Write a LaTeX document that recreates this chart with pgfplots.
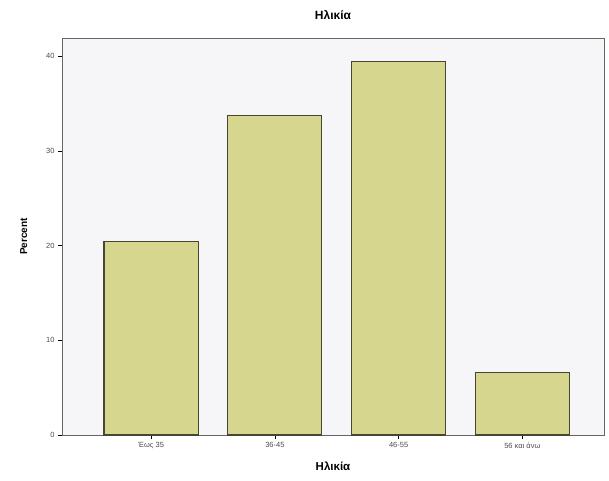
\documentclass[border=0pt]{standalone}
\usepackage{fontspec}
\setmainfont{Liberation Sans}
\usepackage{pgfplots}
\pgfplotsset{compat=1.18}

\definecolor{barfill}{RGB}{214,214,142}
\definecolor{bgplot}{RGB}{246,245,248}
\definecolor{edge}{RGB}{70,70,50}

\begin{document}
\begin{tikzpicture}
\useasboundingbox (-62pt,-45pt) rectangle (547pt,435pt);
\begin{axis}[
  scale only axis,
  width=542pt, height=397pt,
  xmin=-0.72, xmax=3.66,
  ymin=0, ymax=41.9,
  ytick={0,10,20,30,40},
  xtick=data,
  xticklabels={Έως 35,36-45,46-55,56 και άνω},
  tick align=outside,
  xtick pos=bottom, ytick pos=left,
  major tick length=4pt,
  axis background/.style={fill=bgplot},
  axis line style={gray!80!black},
  tick style={black},
  ticklabel style={font=\fontsize{7.5}{9}\selectfont, text=black!70},
  /pgf/number format/assume math mode=true,
  title={\bfseries Ηλικία},
  title style={font=\fontsize{12}{14}\selectfont, yshift=9pt},
  xlabel={\bfseries Ηλικία},
  ylabel={\bfseries Percent},
  xlabel style={font=\fontsize{11.5}{13}\selectfont, yshift=-6pt},
  ylabel style={font=\fontsize{10}{12}\selectfont, yshift=12pt},
  ybar, bar width=0.76,
]
\addplot[fill=barfill, draw=edge, line width=1.2pt]
  coordinates {(0,20.4) (1,33.7) (2,39.4) (3,6.6)};
\end{axis}
\end{tikzpicture}
\end{document}
